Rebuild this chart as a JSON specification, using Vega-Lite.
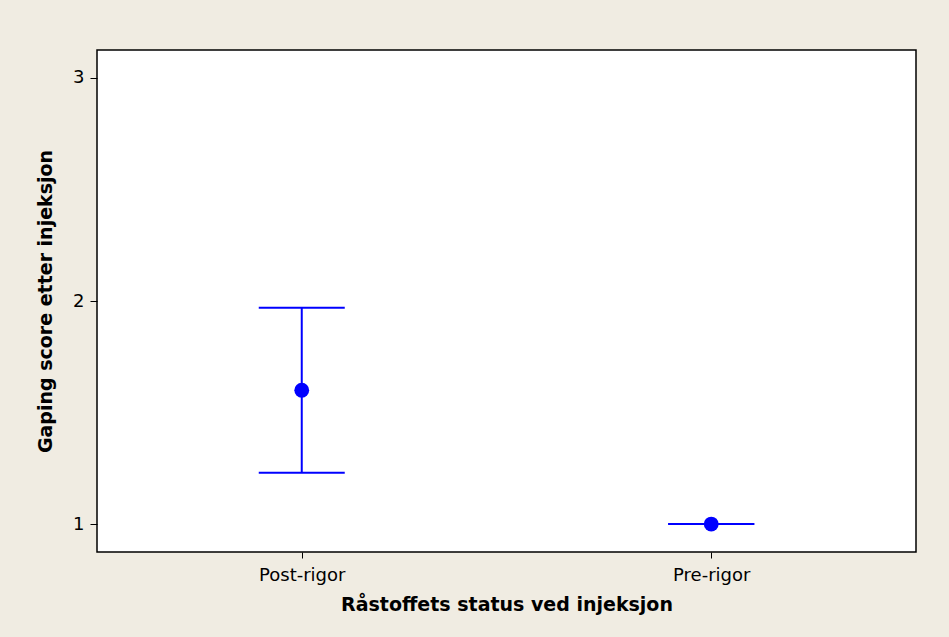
{
  "$schema": "https://vega.github.io/schema/vega-lite/v6.json",
  "width": 819,
  "height": 502,
  "autosize": {"type": "none"},
  "padding": {"left": 97, "top": 50, "right": 33, "bottom": 85},
  "background": "#F0ECE2",
  "config": {
    "view": {"stroke": "#000000", "strokeWidth": 1.5, "fill": "#FFFFFF"},
    "axis": {"grid": false, "domain": false, "tickColor": "#000000", "tickSize": 7, "labelColor": "#000000", "titleColor": "#000000", "labelFont": "DejaVu Sans", "titleFont": "DejaVu Sans", "labelFontSize": 18, "titleFontSize": 19, "titleFontWeight": "bold", "labelFontWeight": "normal"}
  },
  "data": {
    "values": [
      {"status": "Post-rigor", "mean": 1.6, "lower": 1.23, "upper": 1.97},
      {"status": "Pre-rigor", "mean": 1.0, "lower": 1.0, "upper": 1.0}
    ]
  },
  "encoding": {
    "x": {
      "field": "status", "type": "nominal",
      "scale": {"type": "point", "padding": 0.5},
      "sort": ["Post-rigor", "Pre-rigor"],
      "axis": {"title": "Råstoffets status ved injeksjon", "labelAngle": 0, "labelPadding": 8, "titlePadding": 11, "tickSize": 6}
    }
  },
  "layer": [
    {
      "mark": {"type": "rule", "color": "#0000FF", "strokeWidth": 2},
      "encoding": {
        "y": {"field": "lower", "type": "quantitative", "scale": {"domain": [0.875, 3.125], "nice": false, "zero": false},
          "axis": {"title": "Gaping score etter injeksjon", "values": [1, 2, 3], "format": "d", "labelPadding": 6, "titlePadding": 17}},
        "y2": {"field": "upper"}
      }
    },
    {
      "mark": {"type": "tick", "color": "#0000FF", "opacity": 1, "thickness": 2, "size": 86, "orient": "horizontal"},
      "encoding": {"y": {"field": "lower", "type": "quantitative"}}
    },
    {
      "mark": {"type": "tick", "color": "#0000FF", "opacity": 1, "thickness": 2, "size": 86, "orient": "horizontal"},
      "encoding": {"y": {"field": "upper", "type": "quantitative"}}
    },
    {
      "mark": {"type": "point", "filled": true, "color": "#0000FF", "opacity": 1, "size": 220},
      "encoding": {"y": {"field": "mean", "type": "quantitative"}}
    }
  ]
}
